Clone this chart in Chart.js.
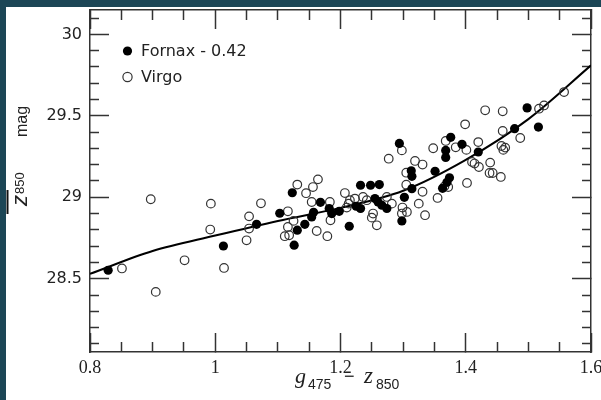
<!DOCTYPE html>
<html>
<head>
<meta charset="utf-8">
<script src="https://cdn.jsdelivr.net/npm/chart.js@4.4.1/dist/chart.umd.min.js"></script>
<style>
  html, body { margin: 0; padding: 0; background: #1c4656; overflow: hidden; }
  #wrap { width: 601px; height: 400px; }
</style>
</head>
<body>
<div id="wrap"><canvas id="sbf"></canvas></div>
<script>
// g475 - z850 colour and fluctuation magnitude, Fornax (shifted by -0.42) and Virgo
const fornaxColor = [0.829, 1.013, 1.066, 1.103, 1.123, 1.126, 1.131, 1.143, 1.154, 1.157,
  1.168, 1.182, 1.186, 1.198, 1.214, 1.225, 1.232, 1.232, 1.248, 1.262, 1.255, 1.260, 1.266,
  1.274, 1.294, 1.302, 1.298, 1.313, 1.314, 1.314, 1.351, 1.368, 1.368, 1.376, 1.394, 1.374,
  1.370, 1.363, 1.420, 1.478, 1.498, 1.516];
const fornaxMag = [28.552, 28.701, 28.834, 28.902, 29.028, 28.706, 28.798, 28.834, 28.879, 28.908,
  28.969, 28.931, 28.900, 28.914, 28.822, 28.945, 28.931, 29.074, 29.074, 29.078, 28.992, 28.971, 28.951,
  28.931, 29.331, 29.000, 28.855, 29.163, 29.129, 29.053, 29.160, 29.288, 29.245, 29.368, 29.325, 29.120,
  29.092, 29.055, 29.278, 29.421, 29.549, 29.431];

const virgoColor = [0.851, 0.897, 0.905, 0.951, 0.993, 0.992, 1.014, 1.050, 1.054, 1.054,
  1.073, 1.116, 1.131, 1.116, 1.111, 1.118, 1.125, 1.145, 1.156, 1.164,
  1.154, 1.162, 1.179, 1.183, 1.184, 1.207, 1.213, 1.215, 1.223, 1.210,
  1.236, 1.242, 1.252, 1.250, 1.258, 1.274, 1.282, 1.277, 1.298, 1.305,
  1.305, 1.299, 1.306, 1.298, 1.319, 1.331, 1.331, 1.325, 1.335, 1.348,
  1.355, 1.368, 1.384, 1.366, 1.372, 1.401, 1.420, 1.399, 1.410, 1.414,
  1.421, 1.402, 1.439, 1.438, 1.443, 1.456, 1.431, 1.459, 1.459, 1.457,
  1.463, 1.460, 1.487, 1.517, 1.525, 1.557];
const virgoMag = [28.563, 28.988, 28.419, 28.613, 28.961, 28.802, 28.566, 28.736, 28.808, 28.883,
  28.963, 28.914, 29.078, 28.818, 28.761, 28.767, 28.855, 29.025, 29.063, 29.110,
  28.971, 28.793, 28.761, 28.971, 28.859, 29.026, 28.961, 28.982, 28.992, 28.937,
  29.002, 28.982, 28.900, 28.875, 28.828, 29.002, 28.961, 29.237, 29.288, 29.077,
  29.151, 28.937, 28.910, 28.900, 29.223, 29.201, 29.034, 28.961, 28.890, 29.301,
  28.996, 29.346, 29.307, 29.067, 29.063, 29.291, 29.339, 29.448, 29.217, 29.207,
  29.186, 29.088, 29.213, 29.149, 29.149, 29.125, 29.534, 29.528, 29.407, 29.315,
  29.305, 29.291, 29.364, 29.544, 29.564, 29.646];

// calibration curve
const fitColor = [0.8, 0.9, 1.0, 1.1, 1.2, 1.3, 1.4, 1.5, 1.6];
const fitMag = [28.53, 28.67, 28.765, 28.855, 28.935, 29.04, 29.23, 29.48, 29.81];

const xRange = [0.8, 1.6];
const yRange = [28.05, 30.15];
const xTicks = [0.8, 1.0, 1.2, 1.4, 1.6];
const xMinorTicks = [0.85, 0.9, 0.95, 1.05, 1.1, 1.15, 1.25, 1.3, 1.35, 1.45, 1.5, 1.55];
const yTicks = [28.5, 29, 29.5, 30];
const yMinorTicks = [28.1, 28.2, 28.3, 28.4, 28.6, 28.7, 28.8, 28.9, 29.1, 29.2, 29.3, 29.4,
  29.6, 29.7, 29.8, 29.9, 30.1];
const legendLabels = ["Fornax - 0.42", "Virgo"];

const toPoints = (xs, ys) => xs.map((x, i) => ({ x: x, y: ys[i] }));

const ink = "#222";
const frameColor = "#333";

// slide background with the white panel behind the figure
const panelBackground = {
  id: "panelBackground",
  beforeDraw(chart) {
    const ctx = chart.ctx;
    ctx.save();
    ctx.fillStyle = "#1c4656";
    ctx.fillRect(0, 0, chart.width, chart.height);
    ctx.fillStyle = "#ffffff";
    ctx.fillRect(6, 7, chart.width - 6, chart.height - 7);
    ctx.restore();
  }
};

// legend inside the plot, plus the axis titles with sub-scripts
const labels = {
  id: "labels",
  afterDraw(chart) {
    const ctx = chart.ctx;
    const ds = chart.data.datasets;
    ctx.save();
    ctx.textBaseline = "middle";
    ctx.font = "16px 'DejaVu Sans', sans-serif";
    [51, 77].forEach((y, i) => {
      ctx.beginPath();
      ctx.arc(127.5, y, 4.6, 0, Math.PI * 2);
      if (i === 0) {
        ctx.fillStyle = ds[0].backgroundColor;
        ctx.fill();
      } else {
        ctx.strokeStyle = ds[1].borderColor;
        ctx.lineWidth = ds[1].borderWidth;
        ctx.stroke();
      }
      ctx.fillStyle = ink;
      ctx.fillText(legendLabels[i], 141, y + 1);
    });

    // x title: g475 - z850
    ctx.textBaseline = "alphabetic";
    ctx.font = "italic 22px 'Liberation Serif', serif";
    ctx.fillText("g", 295, 383);
    ctx.font = "14px 'Liberation Sans', sans-serif";
    ctx.fillText("475", 308, 389);
    ctx.font = "18px 'Liberation Sans', sans-serif";
    ctx.fillText("\u2212", 344, 382);
    ctx.font = "italic 23px 'Liberation Serif', serif";
    ctx.fillText("z", 364, 383);
    ctx.font = "14px 'Liberation Sans', sans-serif";
    ctx.fillText("850", 376, 389);
    ctx.restore();

    // y title: z850 mag, rotated, with a bar over the z
    ctx.save();
    ctx.fillStyle = ink;
    ctx.textBaseline = "alphabetic";
    ctx.translate(27, 206);
    ctx.rotate(-Math.PI / 2);
    ctx.font = "italic 22px 'Liberation Sans', sans-serif";
    ctx.fillText("z", 0, 0);
    ctx.font = "13px 'Liberation Sans', sans-serif";
    ctx.fillText("850", 12, -3);
    ctx.font = "16px 'Liberation Sans', sans-serif";
    ctx.fillText("mag", 69, 0);
    ctx.restore();

    ctx.save();
    ctx.fillStyle = "#111";
    ctx.fillRect(6.5, 190, 2, 24);
    ctx.restore();
  }
};

// one side of the frame: inward tick marks (negative tick length) at the given values
function frameAxis(axis, position, values, tickLength, weight, extra) {
  const range = axis === "x" ? xRange : yRange;
  const base = {
    type: "linear",
    axis: axis,
    position: position,
    weight: weight,
    min: range[0],
    max: range[1],
    grid: {
      display: true,
      drawOnChartArea: false,
      drawTicks: true,
      tickLength: -tickLength,
      tickWidth: 1.5,
      tickColor: frameColor
    },
    border: { display: false },
    ticks: { display: false },
    afterBuildTicks: (s) => { s.ticks = values.map((v) => ({ value: v })); },
    afterFit: (s) => {
      if (s.isHorizontal()) s.height = 0; else s.width = 0;
      s.paddingLeft = 0; s.paddingRight = 0; s.paddingTop = 0; s.paddingBottom = 0;
    }
  };
  return Object.assign(base, extra || {});
}

const frameBorder = { display: true, color: frameColor, width: 1.5 };

new Chart(document.getElementById("sbf"), {
  type: "scatter",
  data: {
    datasets: [
      {
        label: legendLabels[0],
        data: toPoints(fornaxColor, fornaxMag),
        xAxisID: "x",
        yAxisID: "y",
        pointRadius: 4.6,
        backgroundColor: "#000",
        borderColor: "#000",
        borderWidth: 0
      },
      {
        label: legendLabels[1],
        data: toPoints(virgoColor, virgoMag),
        xAxisID: "x",
        yAxisID: "y",
        pointRadius: 4.3,
        backgroundColor: "rgba(255,255,255,0)",
        borderColor: "#333",
        borderWidth: 1.2
      },
      {
        label: "fit",
        data: toPoints(fitColor, fitMag),
        xAxisID: "x",
        yAxisID: "y",
        showLine: true,
        pointRadius: 0,
        borderColor: "#000",
        borderWidth: 2,
        cubicInterpolationMode: "monotone"
      }
    ]
  },
  options: {
    responsive: true,
    maintainAspectRatio: false,
    animation: false,
    layout: { padding: { top: 10, right: 10, left: 0, bottom: 0 } },
    plugins: {
      legend: { display: false },
      tooltip: { enabled: false }
    },
    scales: {
      x: frameAxis("x", "bottom", xTicks, 19, 1, {
        border: frameBorder,
        afterFit: (s) => { s.height = 48; s.paddingLeft = 0; s.paddingRight = 0; },
        ticks: {
          display: true,
          padding: 24,
          color: ink,
          maxRotation: 0,
          callback: (v) => String(v),
          font: { family: "'Liberation Serif'", size: 18 }
        }
      }),
      xMinor: frameAxis("x", "bottom", xMinorTicks, 10, 0),
      xTop: frameAxis("x", "top", xTicks, 19, 0, { border: frameBorder }),
      xTopMinor: frameAxis("x", "top", xMinorTicks, 10, 1),
      y: frameAxis("y", "left", yTicks, 19, 1, {
        border: frameBorder,
        afterFit: (s) => { s.width = 90; s.paddingTop = 0; s.paddingBottom = 0; },
        ticks: {
          display: true,
          padding: 27,
          color: ink,
          callback: (v) => String(v),
          font: { family: "'DejaVu Sans'", size: 16 }
        }
      }),
      yMinor: frameAxis("y", "left", yMinorTicks, 9, 0),
      yRight: frameAxis("y", "right", yTicks, 19, 0, { border: frameBorder }),
      yRightMinor: frameAxis("y", "right", yMinorTicks, 9, 1)
    }
  },
  plugins: [panelBackground, labels]
});
</script>
</body>
</html>
